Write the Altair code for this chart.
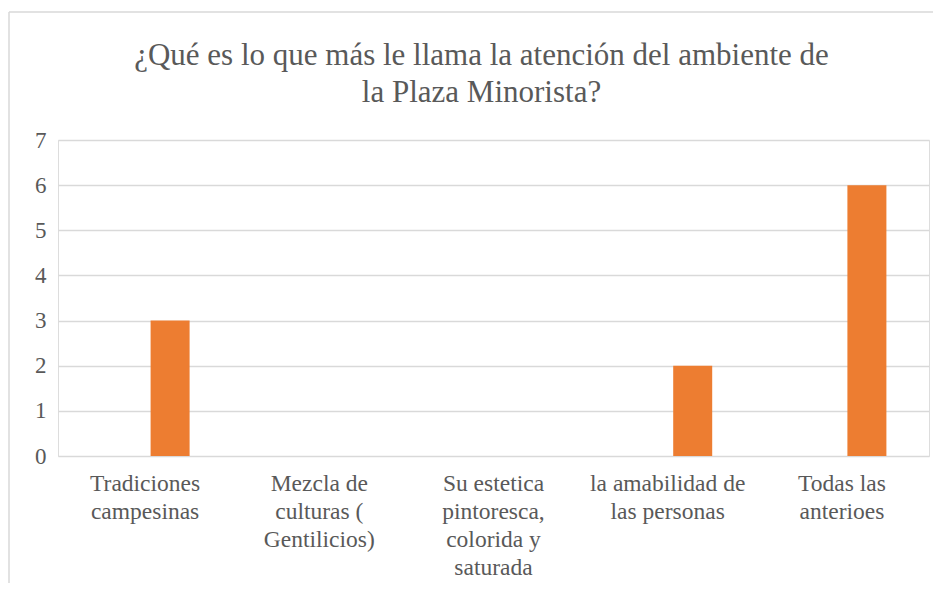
import altair as alt
import pandas as pd

categories = [
    "Tradiciones\ncampesinas",
    "Mezcla de\nculturas (\nGentilicios)",
    "Su estetica\npintoresca,\ncolorida y\nsaturada",
    "la amabilidad de\nlas personas",
    "Todas las\nanterioes",
]
values = [3, 0, 0, 2, 6]
y_ticks = [0, 1, 2, 3, 4, 5, 6, 7]
title_lines = ["¿Qué es lo que más le llama la atención del ambiente de", "la Plaza Minorista?"]

df = pd.DataFrame({"cat": categories, "val": values})

FONT = "Liberation Serif"
GRAY = "#595959"
GRID = "#d9d9d9"

bars = alt.Chart(df).mark_bar(color="#ED7D31", width=39, xOffset=25).encode(
    x=alt.X(
        "cat:N",
        sort=categories,
        scale=alt.Scale(paddingInner=0, paddingOuter=0),
        axis=alt.Axis(
            title=None,
            labelAngle=0,
            labelExpr="split(datum.value, '\\n')",
            labelFont=FONT,
            labelFontSize=23.5,
            labelColor=GRAY,
            labelLineHeight=28,
            labelPadding=15,
            labelBaseline="top",
            ticks=False,
            domain=False,
            grid=False,
        ),
    ),
    y=alt.Y(
        "val:Q",
        scale=alt.Scale(domain=[0, 7], nice=False),
        axis=alt.Axis(
            title=None,
            values=y_ticks,
            labelFont=FONT,
            labelFontSize=23,
            labelColor=GRAY,
            labelPadding=12,
            ticks=False,
            domain=False,
            grid=True,
            gridColor=GRID,
            gridWidth=1.5,
        ),
    ),
)

frame_df = pd.DataFrame({"k": [0]})
left_edge = alt.Chart(frame_df).mark_rule(color=GRID, strokeWidth=1.5).encode(
    x=alt.value(-49), y=alt.value(-128), y2=alt.value(460)
)
top_edge = alt.Chart(frame_df).mark_rule(color=GRID, strokeWidth=1.5).encode(
    x=alt.value(-49), x2=alt.value(900), y=alt.value(-128)
)

chart = (
    alt.layer(left_edge, top_edge, bars)
    .properties(
        width=871,
        height=316,
        autosize=alt.AutoSizeParams(type="none"),
        padding={"left": 50, "top": 132, "right": 4, "bottom": 127},
        title=alt.TitleParams(
            text=title_lines,
            font=FONT,
            fontSize=31,
            fontWeight="normal",
            color=GRAY,
            anchor="middle",
            lineHeight=37,
            offset=-98,
            dx=-12,
        ),
    )
    .configure_view(stroke=None)
    .configure(background="white")
)

chart.save("out.html", embed_options={"renderer": "svg", "actions": False})
